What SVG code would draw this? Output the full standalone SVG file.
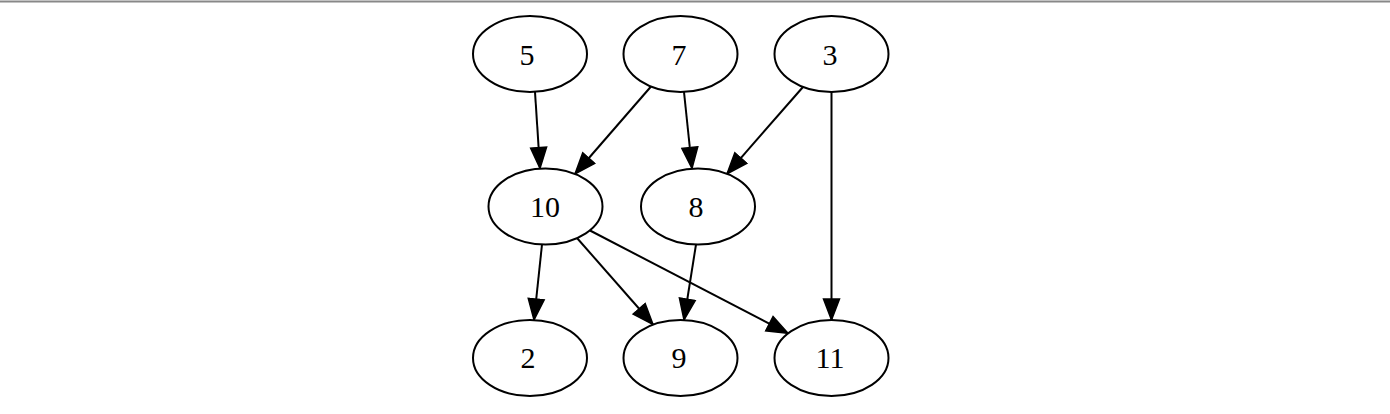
<svg xmlns="http://www.w3.org/2000/svg" width="1390" height="414" viewBox="0 0 1390 414">
<style>
.node ellipse{fill:#fff;stroke:#000;stroke-width:2}
.node text{font-family:"Liberation Serif","Times New Roman",serif;font-size:30px;fill:#000;text-anchor:middle;dominant-baseline:central}
.edges line{stroke:#000;stroke-width:2;marker-end:url(#arr)}
</style>
<defs>
<marker id="arr" markerUnits="userSpaceOnUse" markerWidth="24" markerHeight="20" refX="22" refY="9" orient="auto" viewBox="0 0 24 18">
<path d="M1,1 L22,9 L1,17 Z" fill="#000" stroke="#000" stroke-width="1.5"/>
</marker>
</defs>
<rect width="1390" height="414" fill="#fff"/>
<line x1="0" y1="1.5" x2="1390" y2="1.5" stroke="#888" stroke-width="2"/>
<g class="edges">
<line x1="535" y1="92" x2="540" y2="168.5"/>
<line x1="651" y1="86.5" x2="575" y2="174"/>
<line x1="684" y1="92" x2="692" y2="168.5"/>
<line x1="803" y1="87" x2="727" y2="173.8"/>
<line x1="831.5" y1="92" x2="831.5" y2="320"/>
<line x1="542" y1="244.5" x2="534" y2="320"/>
<line x1="577" y1="238" x2="653" y2="324.5"/>
<line x1="590" y1="230.5" x2="788" y2="333.4"/>
<line x1="696" y1="244.5" x2="684" y2="320"/>
</g>
<g id="n5" class="node"><ellipse cx="530" cy="54" rx="57" ry="38"/><text x="527" y="54">5</text></g>
<g id="n7" class="node"><ellipse cx="680.5" cy="54" rx="57" ry="38"/><text x="679" y="54">7</text></g>
<g id="n3" class="node"><ellipse cx="831.5" cy="54" rx="57" ry="38"/><text x="830" y="54">3</text></g>
<g id="n10" class="node"><ellipse cx="545.5" cy="206.5" rx="57" ry="38"/><text x="545" y="206">10</text></g>
<g id="n8" class="node"><ellipse cx="698" cy="206.5" rx="57" ry="38"/><text x="696" y="206">8</text></g>
<g id="n2" class="node"><ellipse cx="530" cy="358" rx="57" ry="38"/><text x="528" y="357">2</text></g>
<g id="n9" class="node"><ellipse cx="680.5" cy="358" rx="57" ry="38"/><text x="679" y="357">9</text></g>
<g id="n11" class="node"><ellipse cx="831.5" cy="358" rx="57" ry="38"/><text x="830" y="357">11</text></g>
</svg>
